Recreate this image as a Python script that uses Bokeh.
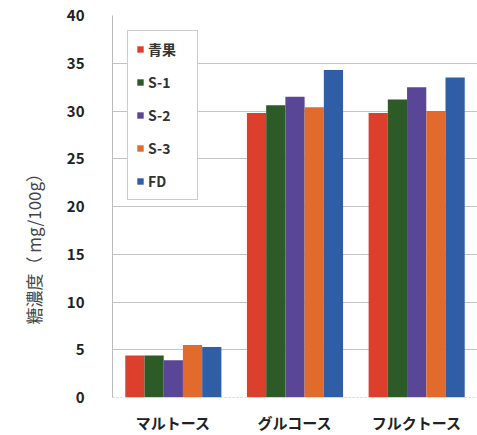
from bokeh.plotting import figure
from bokeh.models import ColumnDataSource, FactorRange, Legend, LegendItem, FixedTicker, Title
from bokeh.transform import dodge
from bokeh.embed import file_html
from bokeh.resources import INLINE

categories = ["マルトース", "グルコース", "フルクトース"]
series = ["青果", "S-1", "S-2", "S-3", "FD"]
v_fresh = [4.4, 29.8, 29.8]
v_s1 = [4.4, 30.6, 31.2]
v_s2 = [3.9, 31.5, 32.5]
v_s3 = [5.5, 30.4, 30.0]
v_fd = [5.3, 34.3, 33.5]
y_ticks = [0, 5, 10, 15, 20, 25, 30, 35, 40]
y_label = "糖濃度（ mg/100g）"

colors = ["#DC3F2B", "#2D5B27", "#5A4696", "#E06B2C", "#2F5EA7"]
values = [v_fresh, v_s1, v_s2, v_s3, v_fd]
keys = ["fresh", "s1", "s2", "s3", "fd"]

data = {"cat": categories}
for k, v in zip(keys, values):
    data[k] = v
source = ColumnDataSource(data)

FONT = "Noto Sans CJK JP"

p = figure(
    width=477, height=435,
    x_range=FactorRange(*categories, range_padding=0),
    y_range=(0, 40),
    output_backend="svg", toolbar_location=None,
    min_border_left=110, min_border_right=0, min_border_top=15, min_border_bottom=29,
)
p.background_fill_color = "white"
p.border_fill_color = "white"
p.outline_line_color = None

bw = 0.158
offsets = [-2 * bw, -bw, 0, bw, 2 * bw]
renderers = []
for k, c, off in zip(keys, colors, offsets):
    r = p.vbar(x=dodge("cat", off, range=p.x_range), top=k, width=bw, source=source,
               fill_color=c, line_color=None)
    renderers.append(r)

legend = Legend(items=[LegendItem(label=s, renderers=[r]) for s, r in zip(series, renderers)],
                location="top_left")
legend.margin = 15
legend.padding = 8
legend.spacing = 13
legend.label_height = 18
legend.glyph_height = 8
legend.glyph_width = 8
legend.label_standoff = 4
legend.label_width = 41
legend.label_text_font = FONT
legend.label_text_font_style = "bold"
legend.label_text_font_size = "14px"
legend.label_text_color = "#333333"
legend.border_line_color = "#999999"
legend.border_line_width = 1
legend.background_fill_color = "white"
legend.background_fill_alpha = 1
p.add_layout(legend)

# y axis title as a side title in the left panel
ytitle = Title(text=y_label, align="left", offset=73, standoff=36,
               text_font=FONT, text_font_size="17px", text_font_style="normal",
               text_color="#444444")
p.add_layout(ytitle, "left")

# y axis
p.yaxis.ticker = FixedTicker(ticks=y_ticks)
p.yaxis.major_label_text_font = FONT
p.yaxis.major_label_text_font_style = "bold"
p.yaxis.major_label_text_font_size = "15px"
p.yaxis.major_label_text_color = "#222222"
p.yaxis.major_label_standoff = 22
p.yaxis.major_tick_line_color = None
p.yaxis.minor_tick_line_color = None
p.yaxis.axis_line_color = "#BBBBBB"

# x axis
p.xaxis.major_label_text_font = FONT
p.xaxis.major_label_text_font_style = "bold"
p.xaxis.major_label_text_font_size = "15px"
p.xaxis.major_label_text_color = "#222222"
p.xaxis.major_label_standoff = 8
p.xaxis.major_tick_line_color = None
p.xaxis.axis_line_color = "#D5D5D5"
p.xaxis.axis_line_dash = "2 2"

p.xgrid.grid_line_color = None
p.ygrid.grid_line_color = "#C4C4C4"
p.ygrid.grid_line_width = 1

open("out.html", "w").write(file_html(p, INLINE))
